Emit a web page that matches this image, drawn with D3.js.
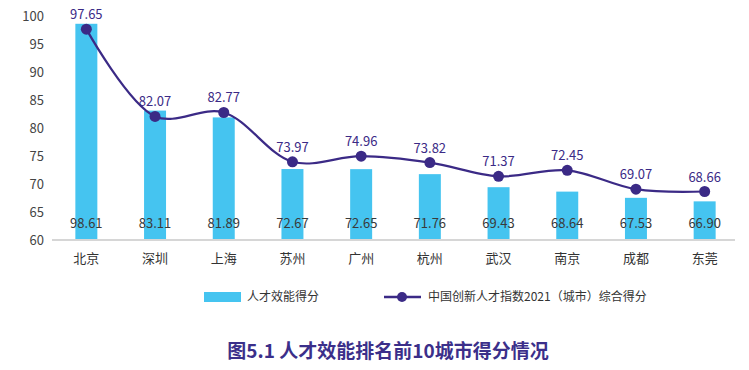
<!DOCTYPE html>
<html>
<head>
<meta charset="utf-8">
<script src="https://cdn.jsdelivr.net/npm/d3@7"></script>
<style>
  body { margin: 0; background: #fff; }
  svg { font-family: "Noto Sans CJK SC", "Noto Sans", sans-serif; }
</style>
</head>
<body>
<svg id="chart" width="749" height="370"></svg>
<script>
const cities = ["北京", "深圳", "上海", "苏州", "广州", "杭州", "武汉", "南京", "成都", "东莞"]
const efficiency = [98.61, 83.11, 81.89, 72.67, 72.65, 71.76, 69.43, 68.64, 67.53, 66.90]
const indexScore = [97.65, 82.07, 82.77, 73.97, 74.96, 73.82, 71.37, 72.45, 69.07, 68.66]
const yTicks = [60, 65, 70, 75, 80, 85, 90, 95, 100]

const barColor = "#45c4f0"
const lineColor = "#3b2a86"

const svg = d3.select("#chart")

const x = d3.scaleBand()
  .domain(cities)
  .range([52, 739])
  .paddingInner(0.68)
  .paddingOuter(0.34)

const y = d3.scaleLinear()
  .domain([60, 100])
  .range([240, 16])

// y tick labels (no axis line)
svg.append("g")
  .selectAll("text")
  .data(yTicks).enter()
  .append("text")
    .attr("x", 44)
    .attr("y", d => y(d))
    .attr("dy", "0.35em")
    .attr("text-anchor", "end")
    .attr("font-size", 13)
    .attr("fill", "#444")
    .text(d => d)

// bars
svg.append("g")
  .selectAll("rect")
  .data(efficiency).enter()
  .append("rect")
    .attr("x", (d, i) => x(cities[i]))
    .attr("y", d => y(d))
    .attr("width", x.bandwidth())
    .attr("height", d => y(60) - y(d))
    .attr("fill", barColor)

// baseline + x labels
const xAxis = svg.append("g")
  .attr("transform", `translate(0,${y(60)})`)
  .call(d3.axisBottom(x).tickSize(0).tickPadding(14))
xAxis.select(".domain").attr("stroke", "#d6d6d6").attr("stroke-width", 2)
  .attr("d", "M52,0H735")
xAxis.selectAll("text")
  .attr("font-size", 13)
  .attr("fill", "#333")
  .style("font-family", "'Noto Sans CJK SC', sans-serif")

// bar value labels
svg.append("g")
  .selectAll("text")
  .data(efficiency).enter()
  .append("text")
    .attr("x", (d, i) => x(cities[i]) + x.bandwidth() / 2)
    .attr("y", y(63))
    .attr("dy", "0.35em")
    .attr("text-anchor", "middle")
    .attr("font-size", 13)
    .attr("fill", "#3a3a3a")
    .text(d => d.toFixed(2))

// smooth line
const cx = (d, i) => x(cities[i]) + x.bandwidth() / 2
const line = d3.line()
  .x(cx)
  .y(d => y(d))
  .curve(d3.curveCatmullRom.alpha(0.5))

svg.append("path")
  .datum(indexScore)
  .attr("d", line)
  .attr("fill", "none")
  .attr("stroke", lineColor)
  .attr("stroke-width", 2.2)

svg.append("g")
  .selectAll("circle")
  .data(indexScore).enter()
  .append("circle")
    .attr("cx", cx)
    .attr("cy", d => y(d))
    .attr("r", 5.5)
    .attr("fill", lineColor)

svg.append("g")
  .selectAll("text")
  .data(indexScore).enter()
  .append("text")
    .attr("x", cx)
    .attr("y", d => y(d) - 10)
    .attr("text-anchor", "middle")
    .attr("font-size", 13)
    .attr("fill", lineColor)
    .text(d => d.toFixed(2))

// legend
const legend = svg.append("g")
legend.append("rect")
  .attr("x", 204).attr("y", 292)
  .attr("width", 37).attr("height", 10)
  .attr("fill", barColor)
legend.append("text")
  .attr("x", 247).attr("y", 297).attr("dy", "0.35em")
  .attr("font-size", 12).attr("fill", "#333")
  .text("人才效能得分")
legend.append("line")
  .attr("x1", 384).attr("x2", 421)
  .attr("y1", 297).attr("y2", 297)
  .attr("stroke", lineColor).attr("stroke-width", 2.5)
legend.append("circle")
  .attr("cx", 402).attr("cy", 297).attr("r", 5)
  .attr("fill", lineColor)
legend.append("text")
  .attr("x", 428).attr("y", 297).attr("dy", "0.35em")
  .attr("font-size", 12).attr("fill", "#333")
  .text("中国创新人才指数2021（城市）综合得分")

// title
svg.append("text")
  .attr("x", 388).attr("y", 351)
  .attr("dy", "0.35em")
  .attr("text-anchor", "middle")
  .attr("font-size", 19)
  .attr("font-weight", "bold")
  .attr("fill", "#3b2f8a")
  .text("图5.1 人才效能排名前10城市得分情况")
</script>
</body>
</html>
